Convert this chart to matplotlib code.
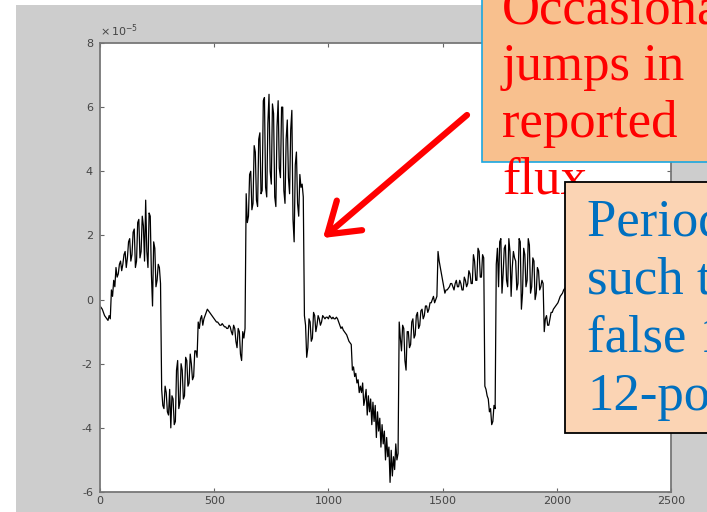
import numpy as np
import matplotlib.pyplot as plt
from matplotlib.patches import Rectangle, FancyArrowPatch
from matplotlib.ticker import FuncFormatter

plt.rcParams['axes.unicode_minus'] = False

# reported flux, one reading every 5 samples (units of 1e-5)
step = 5
flux = [
    -0.2, -0.25, -0.3, -0.4, -0.5, -0.55, -0.6, -0.65, -0.5, -0.6,
    0.3, 0.1, 0.6, 0.4, 1.0, 0.7, 0.8, 1.1, 1.2, 0.9,
    1.1, 1.4, 1.5, 1.0, 1.3, 1.8, 1.9, 1.2, 1.4, 2.1,
    2.2, 1.0, 1.2, 2.4, 2.5, 1.3, 1.5, 2.6, 2.3, 1.2,
    3.1, 1.5, 1.0, 2.7, 2.6, 0.8, -0.2, 1.8, 1.6, 0.4,
    0.6, 1.1, 1.0, 0.5, -2.8, -3.3, -3.4, -2.7, -2.9, -3.5,
    -3.6, -2.8, -4.0, -3.0, -3.1, -3.9, -3.8, -2.2, -1.9, -3.4,
    -3.2, -2.0, -2.2, -3.1, -3.0, -1.8, -1.9, -2.7, -2.6, -1.7,
    -2.0, -2.5, -2.4, -1.6, -1.6, -1.8, -0.7, -0.9, -0.6, -0.5,
    -0.8, -0.6, -0.5, -0.4, -0.3, -0.35, -0.4, -0.45, -0.5, -0.55,
    -0.6, -0.65, -0.7, -0.7, -0.75, -0.8, -0.8, -0.75, -0.8, -0.85,
    -0.85, -0.9, -0.9, -0.8, -0.85, -1.0, -1.1, -0.8, -0.9, -1.3,
    -1.5, -0.9, -1.0, -1.7, -1.9, -1.0, -1.2, -0.9, 3.3, 2.4,
    2.6, 3.9, 4.0, 2.8, 3.0, 4.8, 4.6, 3.1, 2.9, 5.0,
    5.2, 3.3, 3.4, 6.2, 6.3, 3.5, 3.2, 5.5, 6.4, 4.0,
    3.6, 6.1, 5.8, 3.2, 2.9, 5.4, 6.2, 4.1, 3.8, 6.0,
    6.0, 3.4, 3.0, 5.0, 5.6, 3.8, 3.3, 5.3, 5.9, 2.5,
    1.8, 4.2, 4.6, 3.0, 2.6, 3.9, 3.5, 3.6, 3.2, -0.5,
    -0.8, -1.8, -1.5, -0.6, -0.7, -1.3, -1.2, -0.4, -0.5, -1.0,
    -0.8, -0.5, -0.6, -0.8, -0.7, -0.5, -0.55, -0.6, -0.55, -0.55,
    -0.6, -0.5, -0.55, -0.6, -0.55, -0.6, -0.6, -0.55, -0.6, -0.7,
    -0.8, -0.9, -0.85, -0.95, -1.0, -1.05, -1.1, -1.2, -1.3, -1.35,
    -1.4, -2.2, -2.1, -2.4, -2.3, -2.6, -2.5, -2.9, -2.7, -2.9,
    -2.6, -3.3, -3.1, -2.8, -3.6, -3.0, -3.5, -3.1, -3.9, -3.2,
    -3.8, -3.3, -4.3, -3.5, -4.1, -3.7, -4.6, -3.9, -4.5, -4.1,
    -5.0, -4.3, -4.9, -4.6, -5.7, -4.7, -5.5, -4.9, -5.3, -4.5,
    -5.0, -4.8, -0.7, -1.2, -1.6, -0.8, -0.9, -1.9, -2.2, -1.0,
    -1.0, -1.5, -1.4, -0.7, -0.6, -1.2, -1.1, -0.5, -0.4, -0.9,
    -0.8, -0.35, -0.3, -0.6, -0.5, -0.2, -0.2, -0.4, -0.3, -0.1,
    -0.1, 0.0, 0.1, -0.1, 0.0, 0.1, 1.5, 1.2, 1.0, 0.8,
    0.6, 0.4, 0.2, 0.3, 0.3, 0.35, 0.4, 0.5, 0.5, 0.4,
    0.3, 0.5, 0.6, 0.4, 0.4, 0.6, 0.5, 0.3, 0.3, 0.7,
    0.6, 0.4, 0.5, 0.9, 0.8, 0.5, 0.5, 1.4, 1.2, 0.6,
    0.6, 1.6, 1.5, 0.7, 0.7, 1.4, 1.3, -2.7, -2.8, -3.0,
    -3.1, -3.5, -3.4, -3.9, -3.8, -3.3, -3.4, 1.1, 1.6, 0.4,
    1.8, 1.9, 0.2, 0.8, 1.6, 1.7, 0.6, 0.4, 1.9, 1.5,
    0.1, 1.0, 1.5, 1.3, 1.2, 0.3, 0.5, 1.9, 1.8, -0.3,
    0.2, 1.6, 1.4, 0.4, 0.6, 1.9, 1.7, 0.2, 0.4, 1.3,
    1.2, 0.0, 0.2, 1.0, 0.9, 0.3, 0.4, 0.6, 0.5, -1.0,
    -0.6, -0.5, -0.8, -0.8, -0.6, -0.4, -0.4, -0.3, -0.25, -0.2,
    -0.15, -0.1, 0.0, 0.1, 0.15, 0.2, 0.3, 0.35, 0.4,
]
xticks = [0, 500, 1000, 1500, 2000, 2500]
yticks = [-6e-5, -4e-5, -2e-5, 0, 2e-5, 4e-5, 6e-5, 8e-5]

red_lines = ['Occasional', 'jumps in', 'reported', 'flux']
red_base = [23, 80, 137, 193]
blue_lines = ['Periods of', 'such that', 'false 1 in', '12-pole']
blue_base = [236, 294, 352, 410]

W, H = 707, 512
fig = plt.figure(figsize=(W / 100, H / 100), dpi=100, facecolor='white')

# grey window behind the plot
fig.patches.append(Rectangle((16 / W, 0), 1, (H - 5) / H, transform=fig.transFigure,
                             facecolor='#cdcdcd', edgecolor='none', zorder=0))

ax = fig.add_axes([100 / W, (H - 492) / H, 571 / W, 449 / H])
ax.set_zorder(1)
x = np.arange(len(flux)) * step
ax.plot(x, np.array(flux) * 1e-5, color='black', lw=0.9)
ax.set_xlim(0, 2500)
ax.set_ylim(-6e-5, 8e-5)
ax.set_xticks(xticks)
ax.set_yticks(yticks)
# plain hyphen labels, scale factor written above the axis
ax.yaxis.set_major_formatter(FuncFormatter(lambda v, p: f'{round(v * 1e5):d}'))
ax.text(0.0, 1.01, r'$\times\,10^{-5}$', transform=ax.transAxes, fontsize=8,
        color='#444444', ha='left', va='bottom')
ax.tick_params(direction='in', length=3, width=0.8, colors='#666666', labelcolor='#444444',
               labelsize=8, top=True, right=True)
ax.tick_params(axis='y', pad=5)
ax.tick_params(axis='x', pad=3)
for s in ax.spines.values():
    s.set_color('#777777')
    s.set_linewidth(1.3)


def fx(px):
    return px / W


def fy(py):
    return (H - py) / H


# callout box with red text
fig.add_artist(Rectangle((fx(482), fy(162)), 0.5, 0.5, transform=fig.transFigure,
                         facecolor='#f8c08e', edgecolor='#1aa7e0', lw=1.2, zorder=5))
for txt, b in zip(red_lines, red_base):
    fig.text(fx(502), fy(b), txt, color='red', fontsize=38, family='Liberation Serif',
             va='baseline', ha='left', zorder=6)

# second box with blue text
fig.add_artist(Rectangle((fx(565), fy(433)), 0.5, (433 - 182) / H, transform=fig.transFigure,
                         facecolor='#fbd4b4', edgecolor='black', lw=1.3, zorder=7))
for txt, b in zip(blue_lines, blue_base):
    fig.text(fx(587), fy(b), txt, color='#0070c0', fontsize=38, family='Liberation Serif',
             va='baseline', ha='left', zorder=8)

arrow = FancyArrowPatch((fx(467), fy(115)), (fx(323), fy(238)), transform=fig.transFigure,
                        arrowstyle='->,head_length=1.05,head_width=0.7', mutation_scale=20,
                        color='red', lw=4.5, capstyle='round', joinstyle='round',
                        shrinkA=0, shrinkB=0, zorder=9)
fig.add_artist(arrow)

fig.savefig('out.png', dpi=100, facecolor='white')
